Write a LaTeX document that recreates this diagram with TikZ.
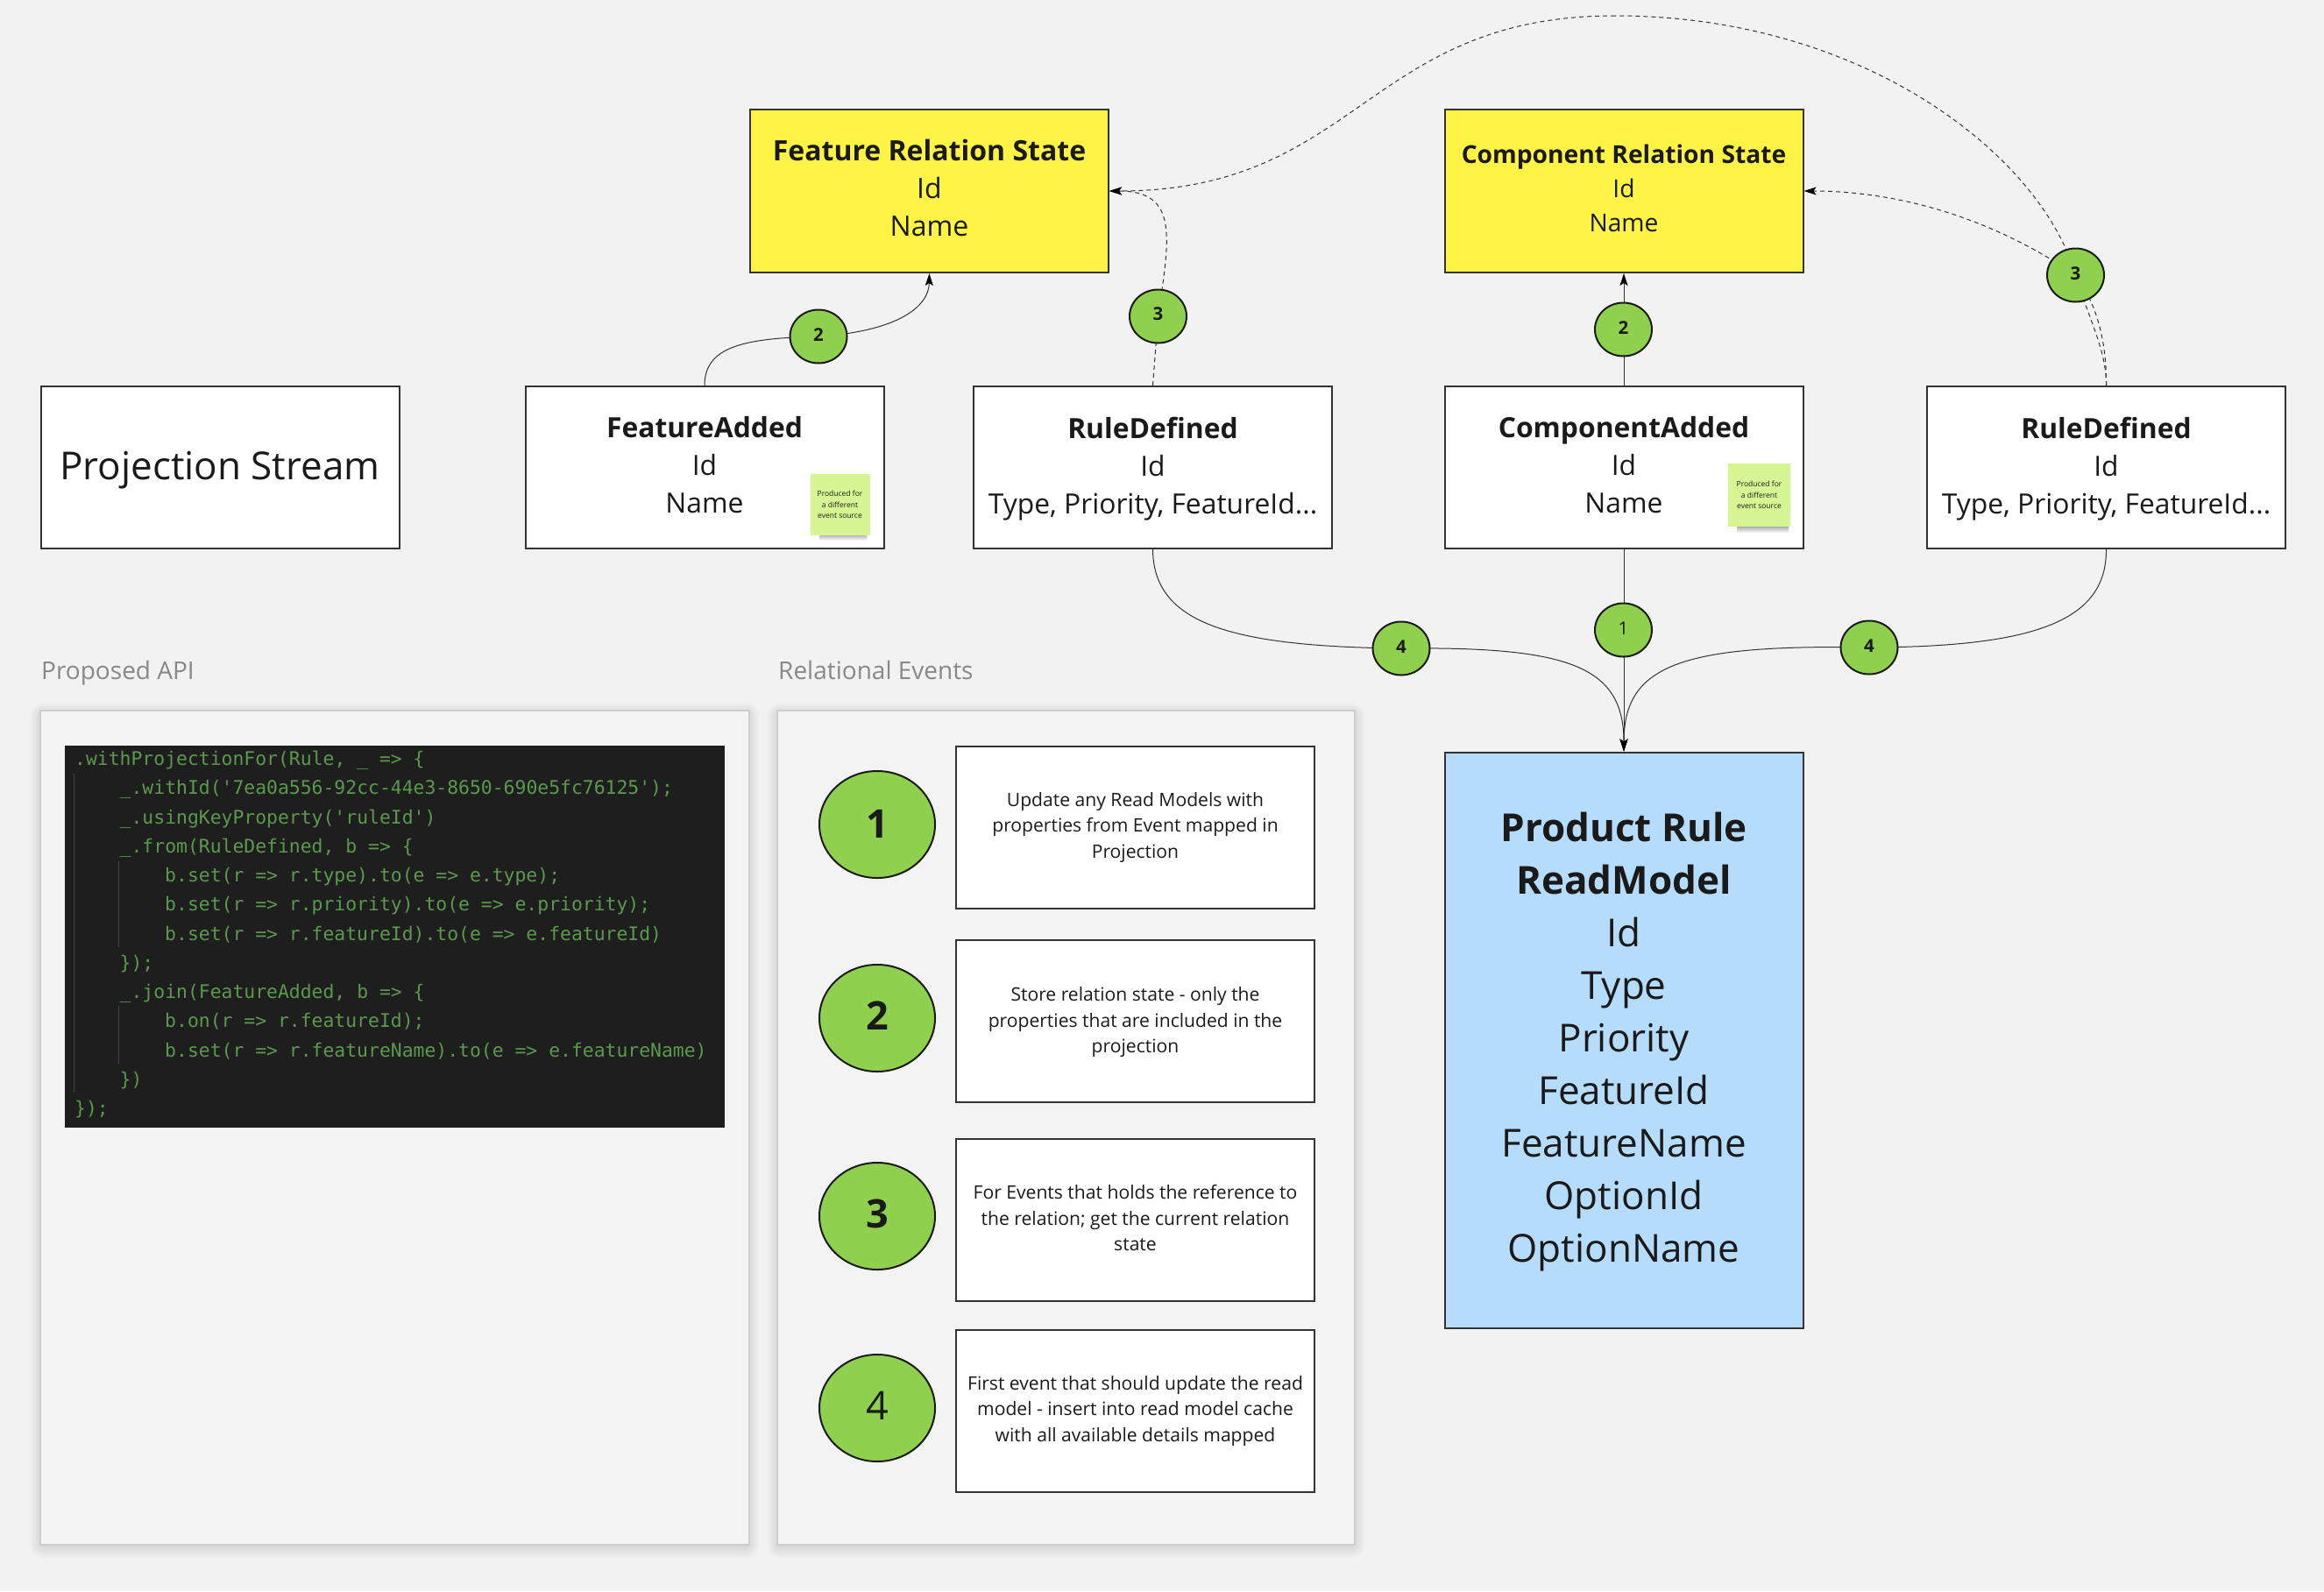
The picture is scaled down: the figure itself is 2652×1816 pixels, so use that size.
\documentclass[tikz,border=0pt]{standalone}
\usepackage{fontspec}
\setmainfont{Open Sans}
\newfontfamily\codefont{DejaVu Sans Mono}
\usetikzlibrary{shapes.geometric,arrows.meta,backgrounds}
\definecolor{pagebg}{HTML}{F2F2F2}
\definecolor{panelbg}{HTML}{F3F3F3}
\definecolor{paneledge}{HTML}{CDCDCD}
\definecolor{ink}{HTML}{1A1A1A}
\definecolor{edge}{HTML}{333333}
\definecolor{stateyellow}{HTML}{FFF445}
\definecolor{readblue}{HTML}{B5DCFA}
\definecolor{badge}{HTML}{8FD14F}
\definecolor{sticky}{HTML}{D5F692}
\definecolor{codebg}{HTML}{1E1E1E}
\definecolor{codefg}{HTML}{5A9A4C}
\definecolor{guide}{HTML}{444444}
\definecolor{caption}{HTML}{888888}
\newcommand{\fs}[2]{\fontsize{#1}{#2}\selectfont}
\newcommand{\ind}[1]{\hspace*{#1\dimexpr 12.88pt\relax}}
\newcommand{\liftby}[1]{\\[\dimexpr #1-\baselineskip\relax]}
\newcommand{\dropto}[1]{\rule{0pt}{#1}}
\tikzset{
  x=1pt,y=-1pt,
  box/.style={draw=edge,line width=2pt,fill=white,rectangle,inner sep=0pt,align=center,text=ink,minimum width=#1},
  box/.default=409pt,
  eventbox/.style={box,minimum height=185pt,font=\fs{31.8}{43}},
  statebox/.style={box,fill=stateyellow,minimum height=186pt},
  legendbox/.style={box=409pt,minimum height=185pt,font=\fs{21.1}{29.5}},
  badgesmall/.style={ellipse,draw=ink,line width=2pt,fill=badge,inner sep=0pt,align=center,minimum width=65pt,minimum height=61pt,text=ink,font=\fs{20.5}{24}},
  badgebig/.style={ellipse,draw=ink,line width=2pt,fill=badge,inner sep=0pt,align=center,minimum width=132pt,minimum height=122pt,text=ink,font=\fs{45}{50}},
  solidlink/.style={draw=edge,line width=1pt},
  dashlink/.style={draw=edge,line width=1pt,dash pattern=on 5pt off 4pt},
  tip/.style={-{Stealth[length=14pt,width=9pt,inset=3pt,color=black]}},
  note/.style={rectangle,fill=sticky,inner sep=0pt,align=center,text=ink,minimum width=68pt,minimum height=70pt,font=\fs{8.5}{12.5}},
  captiontext/.style={anchor=base west,inner sep=0pt,text=caption,font=\fs{28}{32}},
}
\begin{document}
\begin{tikzpicture}
\useasboundingbox (0,0) rectangle (2652,1816);
\begin{scope}[on background layer]
  \fill[pagebg] (0,0) rectangle (2652,1816);
  % panels with soft shadow
  \foreach \d in {15,14,...,1}{
    \fill[black,opacity=0.009,rounded corners=\d pt] (46-\d+3,811-\d+6) rectangle (855+\d-3,1763+\d);
    \fill[black,opacity=0.009,rounded corners=\d pt] (887-\d+3,811-\d+6) rectangle (1546+\d-3,1763+\d);
  }
  \fill[panelbg,draw=paneledge,line width=2pt] (46,811) rectangle (855,1763);
  \fill[panelbg,draw=paneledge,line width=2pt] (887,811) rectangle (1546,1763);
\end{scope}

% top row
\node[statebox,font=\fs{32}{43}] (frs) at (1060.5,218) {\textbf{Feature Relation State}\\Id\\Name\liftby{8pt}};
\node[statebox,font=\fs{28.2}{39}] (crs) at (1853,218) {\textbf{Component Relation State}\\Id\\Name\liftby{6pt}};

% event row
\node[eventbox,font=\fs{44}{52}] (ps) at (251,533.5) {\dropto{38.5pt}Projection Stream};
\node[eventbox] (fa) at (804,533.5) {\textbf{FeatureAdded}\\Id\\Name\liftby{7pt}};
\node[eventbox] (rd) at (1315.5,533.5) {\dropto{28pt}\textbf{RuleDefined}\\Id\\Type, Priority, FeatureId...};
\node[eventbox] (ca) at (1853,533.5) {\textbf{ComponentAdded}\\Id\\Name\liftby{7pt}};
\node[eventbox] (rdb) at (2403.5,533.5) {\dropto{28pt}\textbf{RuleDefined}\\Id\\Type, Priority, FeatureId...};

% read model
\node[box,fill=readblue,minimum height=657pt,font=\fs{44}{60}] (rm) at (1853,1187) {\dropto{37pt}\textbf{Product Rule}\\\textbf{ReadModel}\\Id\\Type\\Priority\\FeatureId\\FeatureName\\OptionId\\OptionName};

% sticky notes
\shade[top color=black!45,bottom color=white,opacity=0.7] (935,610) rectangle (989,617);
\shade[top color=black!45,bottom color=white,opacity=0.7] (1982,601) rectangle (2041,608);
\node[note] (noteA) at (958.5,576) {Produced for\\a different\\event source};
\node[note,minimum width=71pt,minimum height=72pt] (noteB) at (2007.5,565) {Produced for\\a different\\event source};

% badges on the links
\node[badgesmall] (bTwoA) at (934,384) {\textbf{2}\liftby{3pt}};
\node[badgesmall] (bThreeA) at (1321.5,361) {\textbf{3}\liftby{5pt}};
\node[badgesmall] (bTwoB) at (1852.5,376) {\textbf{2}\liftby{3pt}};
\node[badgesmall] (bThreeB) at (2368.5,314) {\textbf{3}\liftby{3pt}};
\node[badgesmall] (bOne) at (1852.5,719) {1\liftby{3pt}};
\node[badgesmall] (bFourA) at (1599,740) {\textbf{4}\liftby{4pt}};
\node[badgesmall] (bFourB) at (2133,739) {\textbf{4}\liftby{4pt}};
\coordinate (peak) at (1843,18);

\begin{scope}[on background layer]
  % solid links
  \draw[solidlink,tip] (fa.north) .. controls (804,395) and (850,386) .. (bTwoA.center) .. controls (1025,378) and (1060,350) .. (frs.south);
  \draw[solidlink,tip] (ca.north) -- (crs.south);
  \draw[solidlink,tip] (ca.south) -- (rm.north);
  \draw[solidlink,tip] (rd.south) .. controls (1316,710) and (1400,738) .. (bFourA.center) .. controls (1790,738) and (1853,760) .. (rm.north);
  \draw[solidlink,tip] (rdb.south) .. controls (2404,710) and (2320,738) .. (bFourB.center) .. controls (1916,735) and (1853,760) .. (rm.north);
  % dashed links
  \draw[dashlink,tip] (rd.north) -- (bThreeA.center) .. controls (1335,270) and (1345,218) .. (frs.east);
  \draw[dashlink] (rdb.north) .. controls (2404,400) and (2382,360) .. (bThreeB.center);
  \draw[dashlink] (rdb.north) .. controls (2404,395) and (2395,350) .. (bThreeB.center);
  \draw[dashlink,tip] (bThreeB.center) .. controls (2260,240) and (2150,218) .. (crs.east);
  \draw[dashlink] (bThreeB.center) .. controls (2330,180) and (2130,18) .. (peak);
  \draw[dashlink,tip] (peak) .. controls (1560,18) and (1550,218) .. (frs.east);
\end{scope}

% captions
\node[captiontext] (capA) at (47,775) {Proposed API};
\node[captiontext] (capB) at (888,775) {Relational Events};

% code
\fill[codebg] (74,851) rectangle (827,1287);
\draw[guide,line width=1pt] (84.5,883) -- (84.5,1247);
\draw[guide,line width=1pt] (135.5,983) -- (135.5,1081);
\draw[guide,line width=1pt] (135.5,1148) -- (135.5,1214);
\node[anchor=north west,inner sep=0pt,align=left,text=codefg,font=\codefont\fs{21.4}{33.25}] (code) at (85,857) {%
.withProjectionFor(Rule, \_ => \{\\
\ind{4}\_.withId('7ea0a556-92cc-44e3-8650-690e5fc76125');\\
\ind{4}\_.usingKeyProperty('ruleId')\\
\ind{4}\_.from(RuleDefined, b => \{\\
\ind{8}b.set(r => r.type).to(e => e.type);\\
\ind{8}b.set(r => r.priority).to(e => e.priority);\\
\ind{8}b.set(r => r.featureId).to(e => e.featureId)\\
\ind{4}\});\\
\ind{4}\_.join(FeatureAdded, b => \{\\
\ind{8}b.on(r => r.featureId);\\
\ind{8}b.set(r => r.featureName).to(e => e.featureName)\\
\ind{4}\})\\
\});};

% legend
\node[badgebig] (lOne) at (1001,941) {\textbf{1}\liftby{2pt}};
\node[badgebig] (lTwo) at (1001,1162) {\textbf{2}\liftby{6pt}};
\node[badgebig] (lThree) at (1001,1388) {\textbf{3}\liftby{6pt}};
\node[badgebig] (lFour) at (1001,1607) {4\liftby{6pt}};
\node[legendbox] (tOne) at (1295.5,944.5) {Update any Read Models with\\properties from Event mapped in\\Projection};
\node[legendbox] (tTwo) at (1295.5,1165) {\dropto{20pt}Store relation state - only the\\properties that are included in the\\projection};
\node[legendbox] (tThree) at (1295.5,1392) {For Events that holds the reference to\\the relation; get the current relation\\state\liftby{3.4pt}};
\node[legendbox] (tFour) at (1295.5,1610) {First event that should update the read\\model - insert into read model cache\\with all available details mapped};
\end{tikzpicture}
\end{document}
